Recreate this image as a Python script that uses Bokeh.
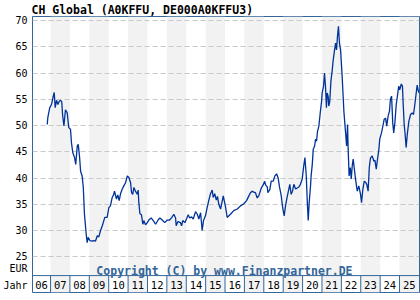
from bokeh.plotting import figure
from bokeh.models import Label, Span, FixedTicker, Range1d
from bokeh.core.properties import value
from bokeh.embed import file_html
from bokeh.resources import INLINE

title_text = "CH Global (A0KFFU, DE000A0KFFU3)"
copyright_text = "Copyright (C) by www.Finanzpartner.DE"
y_ticks = [25, 30, 35, 40, 45, 50, 55, 60, 65, 70]
unit_label = "EUR"
year_axis_label = "Jahr"
year_labels = ["06", "07", "08", "09", "10", "11", "12", "13", "14", "15",
               "16", "17", "18", "19", "20", "21", "22", "23", "24", "25"]
year_starts = list(range(2006, 2026))

dates = [
    2006.83, 2006.86, 2006.96, 2007.05, 2007.14, 2007.19, 2007.24, 2007.31, 2007.38, 2007.45,
    2007.52, 2007.58, 2007.62, 2007.69, 2007.77, 2007.86, 2007.94, 2008.03, 2008.08, 2008.15,
    2008.24, 2008.30, 2008.38, 2008.43, 2008.50, 2008.55, 2008.63, 2008.69, 2008.75, 2008.84,
    2008.89, 2008.94, 2009.03, 2009.15, 2009.23, 2009.32, 2009.41, 2009.49, 2009.58, 2009.67,
    2009.80, 2009.92, 2010.01, 2010.09, 2010.18, 2010.25, 2010.30, 2010.40, 2010.47, 2010.54,
    2010.61, 2010.70, 2010.78, 2010.87, 2010.96, 2011.04, 2011.13, 2011.18, 2011.24, 2011.30,
    2011.38, 2011.47, 2011.52, 2011.55, 2011.61, 2011.69, 2011.76, 2011.81, 2011.90, 2011.99,
    2012.07, 2012.19, 2012.30, 2012.42, 2012.55, 2012.64, 2012.76, 2012.89, 2013.02, 2013.14,
    2013.24, 2013.36, 2013.45, 2013.48, 2013.57, 2013.70, 2013.76, 2013.82, 2013.93, 2014.01,
    2014.10, 2014.18, 2014.27, 2014.36, 2014.48, 2014.57, 2014.65, 2014.74, 2014.82, 2014.89,
    2014.99, 2015.08, 2015.16, 2015.25, 2015.34, 2015.39, 2015.47, 2015.55, 2015.61, 2015.68,
    2015.77, 2015.86, 2015.91, 2015.97, 2016.03, 2016.11, 2016.28, 2016.45, 2016.63, 2016.80,
    2016.97, 2017.11, 2017.23, 2017.31, 2017.40, 2017.48, 2017.57, 2017.66, 2017.74, 2017.87,
    2017.97, 2018.04, 2018.09, 2018.18, 2018.21, 2018.31, 2018.38, 2018.49, 2018.57, 2018.66,
    2018.74, 2018.81, 2018.90, 2018.95, 2019.00, 2019.05, 2019.12, 2019.20, 2019.29, 2019.34,
    2019.41, 2019.48, 2019.55, 2019.64, 2019.72, 2019.81, 2019.89, 2019.98, 2020.06, 2020.12,
    2020.19, 2020.24, 2020.29, 2020.34, 2020.41, 2020.44, 2020.50, 2020.55, 2020.62, 2020.67,
    2020.72, 2020.77, 2020.84, 2020.91, 2020.98, 2021.01, 2021.08, 2021.13, 2021.18, 2021.23,
    2021.27, 2021.32, 2021.35, 2021.40, 2021.46, 2021.53, 2021.58, 2021.65, 2021.70, 2021.75,
    2021.80, 2021.85, 2021.90, 2021.96, 2022.04, 2022.13, 2022.21, 2022.27, 2022.32, 2022.35,
    2022.40, 2022.46, 2022.51, 2022.56, 2022.61, 2022.66, 2022.73, 2022.82, 2022.90, 2022.99,
    2023.04, 2023.11, 2023.18, 2023.25, 2023.31, 2023.38, 2023.44, 2023.50, 2023.59, 2023.68,
    2023.73, 2023.80, 2023.85, 2023.93, 2023.98, 2024.07, 2024.14, 2024.21, 2024.28, 2024.34,
    2024.41, 2024.48, 2024.53, 2024.59, 2024.65, 2024.70, 2024.76, 2024.83, 2024.90, 2024.96,
    2025.01, 2025.09, 2025.15, 2025.19, 2025.24, 2025.29, 2025.34, 2025.40, 2025.48, 2025.57,
    2025.65, 2025.72, 2025.79, 2025.86, 2025.91, 2025.96, 2026.01,
]
prices = [
    50.2, 51.5, 53.4, 54.0, 55.6, 56.3, 53.4, 54.8, 54.0, 54.6,
    54.8, 54.5, 52.1, 49.9, 53.0, 52.4, 49.6, 49.3, 46.7, 44.8,
    43.9, 42.6, 46.1, 46.4, 43.9, 41.3, 40.4, 38.2, 33.1, 29.3,
    27.7, 28.7, 28.1, 28.0, 28.1, 28.0, 29.0, 28.8, 30.0, 30.9,
    32.5, 32.5, 34.4, 34.7, 36.3, 36.8, 37.5, 36.0, 36.8, 35.7,
    37.0, 37.9, 38.5, 39.1, 40.4, 40.1, 39.1, 37.2, 36.9, 38.2,
    37.5, 36.9, 37.7, 35.5, 33.2, 33.0, 31.2, 31.9, 31.1, 31.5,
    32.0, 32.4, 31.9, 31.2, 32.0, 32.4, 32.0, 31.5, 32.0, 32.0,
    32.4, 33.1, 32.4, 30.9, 31.7, 31.5, 30.9, 31.9, 31.5, 32.2,
    33.0, 32.4, 32.6, 32.2, 33.6, 33.1, 32.2, 33.4, 30.0, 31.9,
    32.8, 34.4, 35.7, 37.0, 37.7, 36.3, 37.0, 35.8, 36.5, 35.0,
    34.1, 35.7, 36.6, 35.5, 34.4, 32.5, 33.1, 33.8, 34.1, 34.7,
    35.1, 35.7, 36.6, 37.2, 37.5, 37.3, 37.2, 36.2, 36.6, 38.1,
    38.7, 39.4, 38.7, 38.3, 37.2, 37.8, 39.4, 39.4, 40.4, 40.8,
    40.0, 38.3, 36.6, 35.0, 33.8, 32.8, 34.7, 36.3, 37.9, 38.8,
    36.9, 37.5, 38.8, 37.9, 38.1, 38.3, 38.8, 39.8, 42.3, 43.9,
    40.4, 35.7, 31.9, 35.3, 38.5, 40.4, 42.6, 45.5, 46.1, 47.4,
    47.0, 48.9, 49.9, 52.4, 54.6, 56.2, 57.5, 60.0, 57.5, 53.4,
    56.2, 55.5, 53.7, 54.5, 58.4, 60.6, 62.5, 64.4, 65.7, 64.4,
    67.0, 68.9, 65.7, 64.4, 59.4, 52.7, 48.9, 46.1, 50.2, 45.5,
    40.4, 42.0, 39.8, 42.3, 43.6, 42.0, 39.8, 37.5, 38.5, 36.9,
    35.3, 37.9, 39.4, 39.2, 38.8, 37.5, 42.0, 43.8, 44.2, 43.2,
    43.4, 41.7, 43.2, 45.3, 47.4, 48.6, 49.9, 51.2, 51.4, 49.9,
    51.8, 52.7, 55.0, 55.6, 50.5, 48.6, 50.5, 54.0, 55.9, 57.5,
    56.8, 57.9, 57.5, 54.0, 50.2, 48.3, 45.8, 48.3, 50.8, 52.1,
    52.4, 52.1, 54.0, 56.2, 57.7, 56.7, 56.2,
]

X0, X1 = 2006.07, 2026.03
Y0, Y1 = 18.2, 70.76
ROW_TOP = 21.42
EUR_POS = 22.75
ROW_MID = 19.6
FRAME_BLUE = "#336699"

p = figure(width=420, height=300, output_backend="svg", toolbar_location=None,
           x_range=Range1d(X0, X1), y_range=Range1d(Y0, Y1),
           x_axis_location=None, title=title_text,
           min_border_left=32, min_border_right=1, min_border_top=15, min_border_bottom=8)
p.title.text_font = "DejaVu Sans Mono"
p.title.text_font_style = "bold"
p.title.text_font_size = "11.5px"
p.title.text_color = "black"
p.title.align = "left"
p.title.offset = -1
p.title.standoff = 0
p.outline_line_color = FRAME_BLUE
p.outline_line_width = 1
p.background_fill_color = "white"
p.border_fill_color = "white"

# alternating year bands (odd years shaded)
band_left = [max(y, X0) for y in year_starts if y % 2 == 1]
band_right = [min(y + 1, X1) for y in year_starts if y % 2 == 1]
p.quad(left=band_left, right=band_right, bottom=Y0, top=Y1,
       fill_color="#f2f2f2", line_color=None, level="image")

p.xgrid.visible = False
p.ygrid.ticker = FixedTicker(ticks=y_ticks)
p.ygrid.grid_line_color = "#c8c8c8"
p.ygrid.grid_line_dash = "5 3"
p.ygrid.grid_line_width = 1

ax = p.yaxis[0]
ax.ticker = FixedTicker(ticks=y_ticks + [EUR_POS, ROW_MID])
ax.major_label_overrides = {EUR_POS: unit_label, ROW_MID: year_axis_label}
ax.major_tick_line_color = None
ax.minor_tick_line_color = None
ax.major_tick_out = 0
ax.major_tick_in = 0
ax.minor_tick_out = 0
ax.minor_tick_in = 0
ax.axis_line_color = None
ax.major_label_standoff = 5
ax.major_label_text_font = "DejaVu Sans Mono"
ax.major_label_text_font_size = "10px"
ax.major_label_text_color = "black"

# year label row
p.add_layout(Span(location=ROW_TOP, dimension="width", line_color=FRAME_BLUE, line_width=1))
sep = year_starts[1:]
p.segment(x0=sep, y0=[Y0] * len(sep), x1=sep, y1=[ROW_TOP] * len(sep),
          line_color=FRAME_BLUE, line_width=1)
centers = [(max(y, X0) + min(y + 1, X1)) / 2 for y in year_starts]
p.text(x=centers, y=[ROW_MID] * len(centers), text=year_labels,
       text_font=value("DejaVu Sans Mono"), text_font_size="10.5px",
       text_align="center", text_baseline="middle", text_color="black")

# price line
p.line(dates, prices, line_color="#003399", line_width=1.3)

p.add_layout(Label(x=2015.97, y=22.3, text=copyright_text,
                   text_font="DejaVu Sans Mono", text_font_style="bold",
                   text_font_size="11.5px", text_color=FRAME_BLUE,
                   text_baseline="alphabetic", text_align="center"))

open("out.html", "w").write(file_html(p, INLINE))
